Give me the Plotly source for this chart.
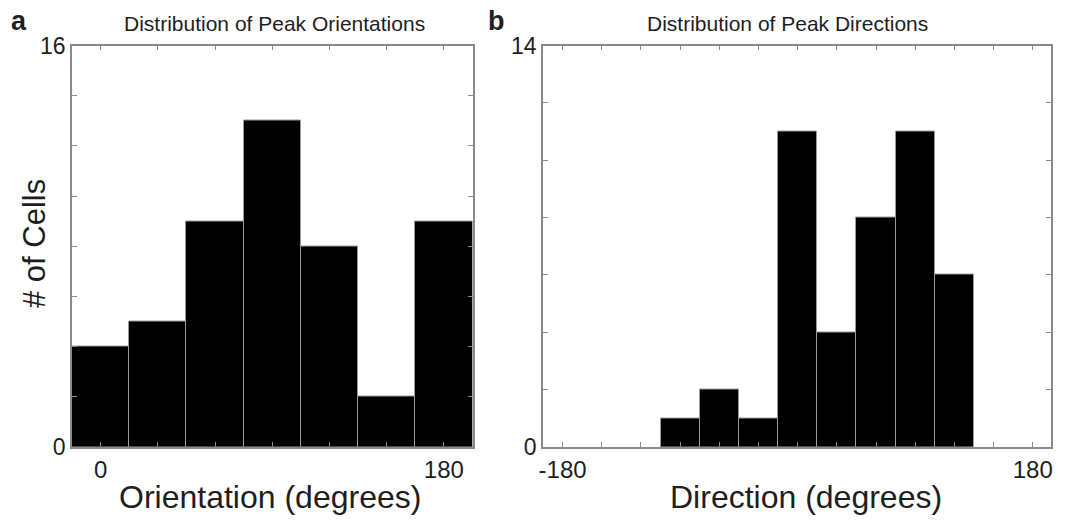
import plotly.graph_objects as go

# Data
orient_centers = [0, 30, 60, 90, 120, 150, 180]
orient_counts = [4, 5, 9, 13, 8, 2, 9]
dir_centers = [-90, -60, -30, 0, 30, 60, 90, 120]
dir_counts = [1, 2, 1, 11, 4, 8, 11, 6]

orient_ticks = [0, 30, 60, 90, 120, 150, 180]
orient_ticktext = ["0", "", "", "", "", "", "180"]
dir_ticks = list(range(-180, 181, 30))
dir_ticktext = ["-180"] + [""] * 11 + ["180"]
y1_ticks = list(range(0, 17, 2))
y1_ticktext = ["0"] + [""] * 7 + ["16"]
y2_ticks = list(range(0, 15, 2))
y2_ticktext = ["0"] + [""] * 6 + ["14"]

W, H = 1067, 521
FONT = "Arial, Liberation Sans, sans-serif"
AX = "#8a8a8a"
TXT = "#1e1e1e"
EDGE = "#9a9a9a"

fig = go.Figure()
fig.add_trace(go.Bar(x=orient_centers, y=orient_counts, width=30,
                     marker=dict(color="black", line=dict(color=EDGE, width=1)),
                     xaxis="x", yaxis="y", showlegend=False))
fig.add_trace(go.Bar(x=dir_centers, y=dir_counts, width=30,
                     marker=dict(color="black", line=dict(color=EDGE, width=1)),
                     xaxis="x2", yaxis="y2", showlegend=False))

ydom = [1 - 447 / H, 1 - 45.5 / H]
common = dict(showline=True, linecolor=AX, linewidth=1.5, mirror="ticks",
              ticks="inside", ticklen=5, tickcolor=AX, tickwidth=1,
              showgrid=False, zeroline=False, automargin=False)
xfont = dict(family=FONT, size=24, color=TXT)
yfont = dict(family=FONT, size=23, color=TXT)

fig.update_layout(
    width=W, height=H, margin=dict(l=0, r=0, t=0, b=0, autoexpand=False),
    paper_bgcolor="white", plot_bgcolor="white", bargap=0,
    xaxis=dict(domain=[72 / W, 472.5 / W], range=[-15, 195], anchor="y",
               tickvals=orient_ticks, ticktext=orient_ticktext, tickfont=xfont, **common),
    yaxis=dict(domain=ydom, range=[0, 16], anchor="x",
               tickvals=y1_ticks, ticktext=y1_ticktext, tickfont=yfont, **common),
    xaxis2=dict(domain=[543 / W, 1051 / W], range=[-195, 194], anchor="y2",
                tickvals=dir_ticks, ticktext=dir_ticktext, tickfont=xfont, **common),
    yaxis2=dict(domain=ydom, range=[0, 14], anchor="x2",
                tickvals=y2_ticks, ticktext=y2_ticktext, tickfont=yfont, **common),
)

def ann(text, x, y, size, bold=False, angle=0, xanchor="center"):
    fig.add_annotation(text=("<b>%s</b>" % text) if bold else text,
                       x=x / W, y=1 - y / H, xref="paper", yref="paper",
                       showarrow=False, textangle=angle, xanchor=xanchor, yanchor="middle",
                       font=dict(family=FONT, size=size, color=TXT))

ann("a", 19, 21, 27, bold=True)
ann("b", 496, 21, 27, bold=True)
ann("Distribution of Peak Orientations", 274, 23, 21)
ann("Distribution of Peak Directions", 787, 23, 21)
ann("# of Cells", 34, 244, 31, angle=-90)
ann("Orientation (degrees)", 270, 497, 32)
ann("Direction (degrees)", 806, 497, 32)

fig.write_html("out.html")
